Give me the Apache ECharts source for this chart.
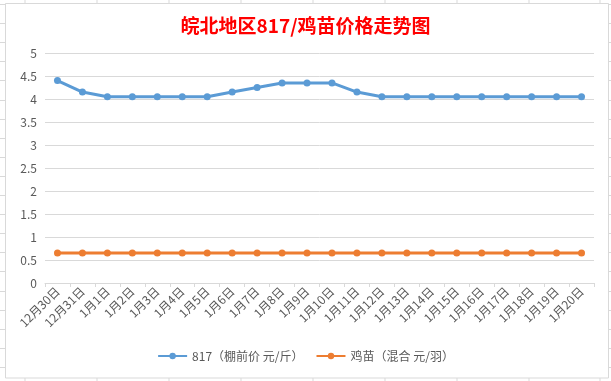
<!DOCTYPE html>
<html>
<head>
<meta charset="utf-8">
<script src="https://cdn.jsdelivr.net/npm/echarts@6/dist/echarts.min.js"></script>
<style>
html,body{margin:0;padding:0;background:#fff;}
#c{width:611px;height:381px;}
</style>
</head>
<body>
<div id="c"></div>
<script>
const categories = ['12月30日','12月31日','1月1日','1月2日','1月3日','1月4日','1月5日','1月6日','1月7日','1月8日','1月9日','1月10日','1月11日','1月12日','1月13日','1月14日','1月15日','1月16日','1月17日','1月18日','1月19日','1月20日'];
const broilerPrice = [4.4,4.15,4.05,4.05,4.05,4.05,4.05,4.15,4.25,4.35,4.35,4.35,4.15,4.05,4.05,4.05,4.05,4.05,4.05,4.05,4.05,4.05];
const chickPrice = [0.65,0.65,0.65,0.65,0.65,0.65,0.65,0.65,0.65,0.65,0.65,0.65,0.65,0.65,0.65,0.65,0.65,0.65,0.65,0.65,0.65,0.65];
const seriesNames = ['817（棚前价 元/斤）','鸡苗（混合 元/羽）'];
const yTicks = {min:0, max:5, interval:0.5};

const font = '"Noto Sans CJK SC", "Microsoft YaHei", sans-serif';
const gridColor = '#d9d9d9';
const labelColor = '#595959';

// spreadsheet background lines peeking around the chart box
const bg = [];
const colX = [25,97,169,241,313,385,457,529,600];
colX.forEach(x => {
  bg.push({type:'line', shape:{x1:x,y1:0,x2:x,y2:3}, style:{stroke:gridColor,lineWidth:1}, silent:true});
  bg.push({type:'line', shape:{x1:x,y1:378,x2:x,y2:381}, style:{stroke:gridColor,lineWidth:1}, silent:true});
});
for (let y = 4; y < 381; y += 19.1) {
  const yy = Math.round(y) + 0.5;
  bg.push({type:'line', shape:{x1:0,y1:yy,x2:5,y2:yy}, style:{stroke:gridColor,lineWidth:1}, silent:true});
  bg.push({type:'line', shape:{x1:609,y1:yy,x2:611,y2:yy}, style:{stroke:gridColor,lineWidth:1}, silent:true});
}
bg.push({type:'rect', shape:{x:5.5,y:3.5,width:603,height:374.5}, style:{fill:'#fff',stroke:gridColor,lineWidth:1}, silent:true, z:-1});

const chart = echarts.init(document.getElementById('c'), null, {renderer:'canvas'});
chart.setOption({
  animation:false,
  backgroundColor:'#fff',
  graphic: bg,
  title:{
    text:'皖北地区817/鸡苗价格走势图',
    left:'center', top:11,
    textStyle:{color:'#ff0000', fontSize:19, fontWeight:'bold', fontFamily:'"Noto Sans CJK SC", "Microsoft YaHei", sans-serif'}
  },
  grid:{left:45, right:17, top:53, bottom:98, containLabel:false},
  legend:{
    data:seriesNames,
    bottom:14, left:'center',
    itemWidth:29, itemHeight:8, itemGap:12,
    textStyle:{color:labelColor, fontSize:12, fontFamily:font}
  },
  xAxis:{
    type:'category',
    data:categories,
    boundaryGap:true,
    axisLine:{lineStyle:{color:gridColor,width:1}},
    axisTick:{show:true, length:4, lineStyle:{color:gridColor}, alignWithLabel:false},
    axisLabel:{rotate:45, color:labelColor, fontSize:12, fontFamily:font, margin:6, interval:0}
  },
  yAxis:{
    type:'value',
    min:yTicks.min, max:yTicks.max, interval:yTicks.interval,
    axisLine:{show:false},
    axisTick:{show:false},
    splitLine:{lineStyle:{color:gridColor,width:1}},
    axisLabel:{color:labelColor, fontSize:12, fontFamily:font, margin:8}
  },
  series:[
    {name:seriesNames[0], type:'line', data:broilerPrice, symbol:'circle', symbolSize:7,
     lineStyle:{width:3, color:'#5b9bd5'}, itemStyle:{color:'#5b9bd5'}},
    {name:seriesNames[1], type:'line', data:chickPrice, symbol:'circle', symbolSize:7,
     lineStyle:{width:3, color:'#ed7d31'}, itemStyle:{color:'#ed7d31'}}
  ]
});
</script>
</body>
</html>
